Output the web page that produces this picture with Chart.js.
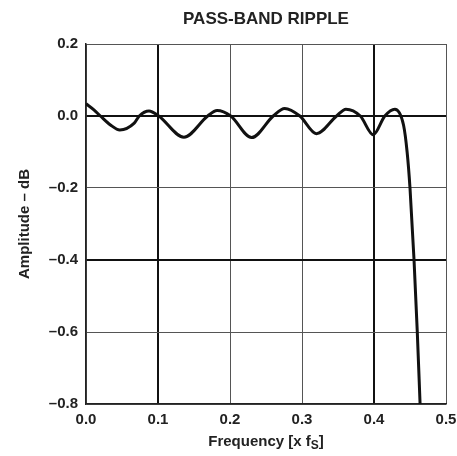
<!DOCTYPE html>
<html>
<head>
<meta charset="utf-8">
<title>PASS-BAND RIPPLE</title>
<script src="https://cdn.jsdelivr.net/npm/chart.js@4.4.1/dist/chart.umd.min.js"></script>
<style>
  html, body { margin: 0; padding: 0; background: #fff; }
  #contenedor { width: 457px; height: 456px; }
</style>
</head>
<body>
<div id="contenedor"><canvas id="ripple" width="457" height="456"></canvas></div>
<script>
// frecuencia [x fS] y amplitud [dB]
var frecuencias = [0.000, 0.011, 0.020, 0.034, 0.047, 0.067, 0.074, 0.0875, 0.101, 0.136,
                   0.169, 0.182, 0.201, 0.230, 0.260, 0.276, 0.297, 0.320, 0.348, 0.361,
                   0.381, 0.399, 0.415, 0.429, 0.441, 0.446, 0.450, 0.4556, 0.460, 0.464];
var amplitudes = [0.034, 0.017, 0.000, -0.025, -0.039, -0.020, 0.000, 0.014, 0.000, -0.059,
                  0.000, 0.015, 0.000, -0.060, 0.000, 0.021, 0.000, -0.049, 0.000, 0.019,
                  0.000, -0.052, 0.000, 0.019, -0.025, -0.100, -0.200, -0.400, -0.594, -0.800];
var ticksX = [0.0, 0.1, 0.2, 0.3, 0.4, 0.5];
var ticksY = [0.2, 0.0, -0.2, -0.4, -0.6, -0.8];
var lineasGruesasX = [0.1, 0.4];
var lineasGruesasY = [0.0, -0.4];

var titulo = 'PASS-BAND RIPPLE';
var tituloY = 'Amplitude \u2013 dB';
var tituloX = 'Frequency [x f';
var subX = 'S';

var familia = '"Liberation Sans", Arial, sans-serif';

function esGruesa(lista, v) {
  for (let i = 0; i < lista.length; i++) {
    if (Math.abs(lista[i] - v) < 1e-6) return true;
  }
  return false;
}

function formatear(v) {
  var t = Math.abs(v).toFixed(1);
  if (v < -1e-6) return '\u2013' + t;
  return t;
}

// textos de titulo y ejes, centrados sobre el area del grafico
var textos = {
  id: 'textos',
  afterDraw: function (chart) {
    var ctx = chart.ctx;
    var area = chart.chartArea;
    var cx = (area.left + area.right) / 2;
    ctx.save();
    ctx.fillStyle = '#222';
    ctx.textBaseline = 'middle';
    ctx.textAlign = 'center';
    ctx.font = 'bold 17px ' + familia;
    ctx.fillText(titulo, cx, 19.5);

    ctx.font = 'bold 15px ' + familia;
    var w1 = ctx.measureText(tituloX).width;
    ctx.font = 'bold 12px ' + familia;
    var w2 = ctx.measureText(subX).width;
    ctx.font = 'bold 15px ' + familia;
    var w3 = ctx.measureText(']').width;
    var x0 = cx - (w1 + w2 + w3) / 2;
    ctx.textAlign = 'left';
    ctx.fillText(tituloX, x0, 442);
    ctx.font = 'bold 12px ' + familia;
    ctx.fillText(subX, x0 + w1, 446);
    ctx.font = 'bold 15px ' + familia;
    ctx.fillText(']', x0 + w1 + w2, 442);

    ctx.translate(25, (area.top + area.bottom) / 2);
    ctx.rotate(-Math.PI / 2);
    ctx.textAlign = 'center';
    ctx.fillText(tituloY, 0, 0);
    ctx.restore();
  }
};

function crear_grafico(canva) {
  var datos = [];
  for (let i = 0; i < frecuencias.length; i++) {
    datos.push({ x: frecuencias[i], y: amplitudes[i] });
  }
  var fuente = { family: familia, size: 15, weight: 'bold' };
  let ctx = document.getElementById(canva).getContext('2d');

  window.grafica = new Chart(ctx, {
    type: 'line',
    data: {
      datasets: [{
        label: 'Ripple',
        data: datos,
        borderColor: '#111',
        borderWidth: 3,
        pointRadius: 0,
        fill: false,
        cubicInterpolationMode: 'monotone'
      }]
    },
    options: {
      responsive: false,
      animation: false,
      layout: { padding: { top: 44, right: 11, left: 0, bottom: 0 } },
      plugins: { legend: { display: false }, title: { display: false }, tooltip: { enabled: false } },
      scales: {
        x: {
          type: 'linear',
          min: 0, max: 0.5,
          afterFit: function (s) { s.height = 52; s.paddingLeft = 0; s.paddingRight = 0; },
          afterBuildTicks: function (s) { s.ticks = ticksX.map(function (v) { return { value: v }; }); },
          ticks: { color: '#222', font: fuente, padding: 7, maxRotation: 0,
                   callback: function (v) { return formatear(v); } },
          grid: {
            drawTicks: false,
            color: function (c) { return esGruesa(lineasGruesasX, c.tick.value) ? '#111' : '#555'; },
            lineWidth: function (c) { return esGruesa(lineasGruesasX, c.tick.value) ? 2 : 1; }
          },
          border: { color: '#222', width: 1.5 }
        },
        y: {
          type: 'linear',
          min: -0.8, max: 0.2,
          afterFit: function (s) { s.width = 86; s.paddingTop = 0; s.paddingBottom = 0; },
          afterBuildTicks: function (s) { s.ticks = ticksY.map(function (v) { return { value: v }; }); },
          ticks: { color: '#222', font: fuente, padding: 8,
                   callback: function (v) { return formatear(v); } },
          grid: {
            drawTicks: false,
            color: function (c) { return esGruesa(lineasGruesasY, c.tick.value) ? '#111' : '#555'; },
            lineWidth: function (c) { return esGruesa(lineasGruesasY, c.tick.value) ? 2 : 1; }
          },
          border: { color: '#222', width: 1.5 }
        }
      }
    },
    plugins: [textos]
  });
}

crear_grafico('ripple');
</script>
</body>
</html>
